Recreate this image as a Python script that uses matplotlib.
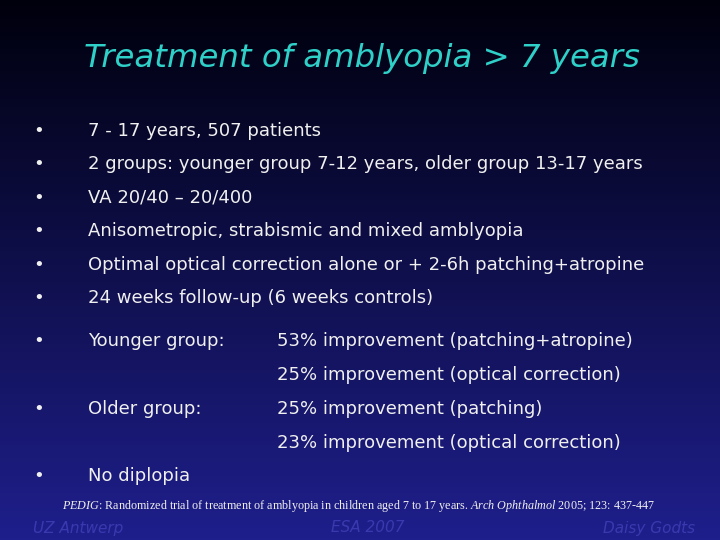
import matplotlib
matplotlib.use("Agg")
import matplotlib.pyplot as plt
import numpy as np

title = "Treatment of amblyopia > 7 years"
bullets = [
    ("7 - 17 years, 507 patients", None),
    ("2 groups: younger group 7-12 years, older group 13-17 years", None),
    ("VA 20/40 – 20/400", None),
    ("Anisometropic, strabismic and mixed amblyopia", None),
    ("Optimal optical correction alone or + 2-6h patching+atropine", None),
    ("24 weeks follow-up (6 weeks controls)", None),
    ("Younger group:", "53% improvement (patching+atropine)"),
    (None, "25% improvement (optical correction)"),
    ("Older group:", "25% improvement (patching)"),
    (None, "23% improvement (optical correction)"),
    ("No diplopia", None),
]
line_y = [131, 164, 198, 231, 265, 298, 341, 375, 409, 443, 476]
citation = r"$\it{PEDIG}$: Randomized trial of treatment of amblyopia in children aged 7 to 17 years. $\it{Arch\ Ophthalmol}$ 2005; 123: 437-447"
footer = ["UZ Antwerp", "ESA 2007", "Daisy Godts"]

W, H = 720, 540
fig = plt.figure(figsize=(7.2, 5.4), dpi=100)
ax = fig.add_axes([0, 0, 1, 1])
ax.set_xlim(0, W); ax.set_ylim(H, 0); ax.axis("off")
t = np.linspace(0, 1, 256)[:, None]
top = np.array([0.0, 0.0, 0.05]); bot = np.array([0.12, 0.12, 0.55])
grad = top + (bot - top) * t[..., None]
ax.imshow(np.repeat(grad, 2, axis=1), extent=[0, W, H, 0], aspect="auto")

ax.text(362, 58, title, color="#2fd0c8", fontsize=23.3, style="italic",
        ha="center", va="center", family="DejaVu Sans")
fc = "#f0f0f0"
for (a, b), y in zip(bullets, line_y):
    if a is not None:
        ax.text(33, y, "•", color=fc, fontsize=13, va="center")
        ax.text(88, y, a, color=fc, fontsize=13, va="center")
    if b is not None:
        ax.text(277, y, b, color=fc, fontsize=13, va="center")
plt.rcParams['mathtext.fontset'] = 'custom'
plt.rcParams['mathtext.it'] = 'Liberation Serif:italic'
plt.rcParams['mathtext.rm'] = 'Liberation Serif'
ax.text(62, 506, citation, color=fc, fontsize=8.7, va="center", family="Liberation Serif")
fcol = "#3a3ab0"
ax.text(33, 528, footer[0], color=fcol, fontsize=11, style="italic", va="center")
ax.text(368, 528, footer[1], color=fcol, fontsize=11, style="italic", va="center", ha="center")
ax.text(695, 528, footer[2], color=fcol, fontsize=11, style="italic", va="center", ha="right")
fig.savefig("out.png", dpi=100)
